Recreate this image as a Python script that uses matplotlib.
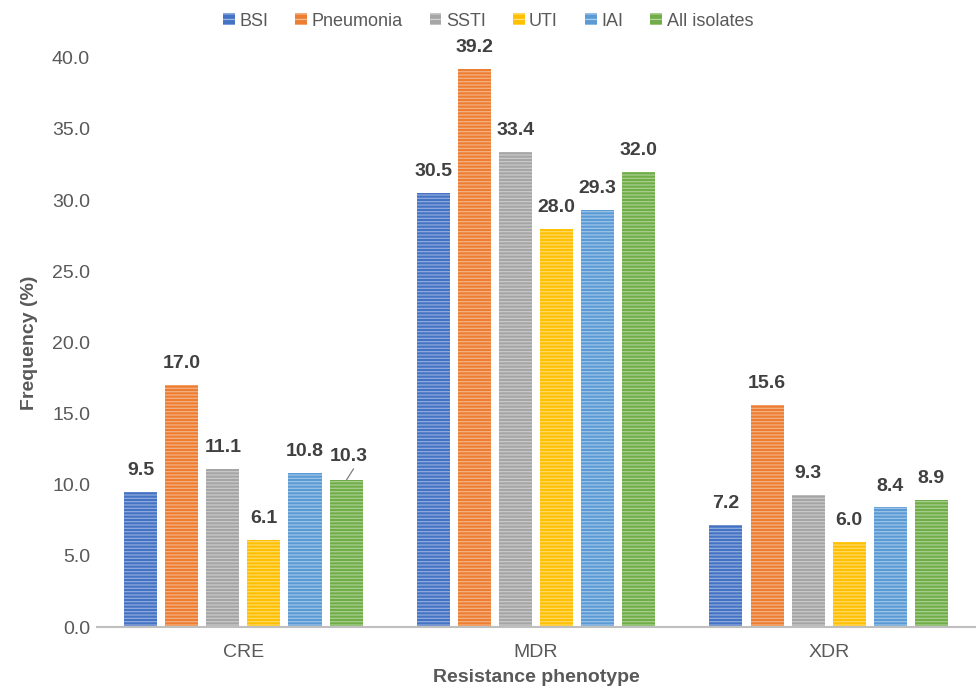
import numpy as np
import matplotlib.pyplot as plt
from matplotlib.patches import Patch

plt.rcParams['font.family'] = ['Liberation Sans', 'DejaVu Sans']
plt.rcParams['hatch.linewidth'] = 0.9

# Resistance frequency by infection source
phenotypes = ['CRE', 'MDR', 'XDR']
sources = ['BSI', 'Pneumonia', 'SSTI', 'UTI', 'IAI', 'All isolates']
colors = ['#4472C4', '#ED7D31', '#A5A5A5', '#FFC000', '#5B9BD5', '#70AD47']
bsi = [9.5, 30.5, 7.2]
pneumonia = [17.0, 39.2, 15.6]
ssti = [11.1, 33.4, 9.3]
uti = [6.1, 28.0, 6.0]
iai = [10.8, 29.3, 8.4]
all_isolates = [10.3, 32.0, 8.9]
series = [bsi, pneumonia, ssti, uti, iai, all_isolates]

fig = plt.figure(figsize=(9.76, 6.9), dpi=100)
ax = fig.add_axes([0.0994, 0.0913, 0.8996, 0.825])

x = np.arange(len(phenotypes))
pitch = 0.1404
width = 0.113
txt = '#404040'

for i, (name, vals, c) in enumerate(zip(sources, series, colors)):
    pos = x + (i - 2.5) * pitch
    ax.bar(pos, vals, width, color=c, linewidth=0, zorder=2)
    # light horizontal stripes over the fill
    ax.bar(pos, vals, width, facecolor='none', edgecolor=(1, 1, 1, 0.4),
           hatch='-' * 5, linewidth=0, zorder=3)
    for xp, v in zip(pos, vals):
        if name == 'All isolates' and v == 10.3:
            # label lifted a little, with a leader line down to the bar
            ax.text(xp + 0.01, v + 1.65, f'{v:.1f}', ha='center', va='center',
                    fontsize=14, fontweight='bold', color=txt)
            ax.plot([xp + 0.002, xp + 0.025], [v + 0.05, v + 0.8],
                    color='#7f7f7f', lw=0.9, zorder=4)
        else:
            ax.text(xp, v + 1.5, f'{v:.1f}', ha='center', va='center',
                    fontsize=14, fontweight='bold', color=txt)

ax.set_xlim(-0.5, 2.5)
ax.set_ylim(0, 40)
ax.set_yticks(np.arange(0, 40.1, 5))
ax.set_yticklabels([f'{t:.1f}' for t in np.arange(0, 40.1, 5)])
ax.set_xticks(x)
ax.set_xticklabels(phenotypes)
ax.tick_params(axis='both', length=0, labelsize=14, colors='#595959')
ax.tick_params(axis='x', pad=12)
ax.tick_params(axis='y', pad=5)

for side in ['top', 'right', 'left']:
    ax.spines[side].set_visible(False)
ax.spines['bottom'].set_color('#bfbfbf')
ax.spines['bottom'].set_linewidth(1.5)
ax.spines['bottom'].set_zorder(4)

ax.set_xlabel('Resistance phenotype', fontsize=14, fontweight='bold', color='#595959', labelpad=6)
ax.set_ylabel('Frequency (%)', fontsize=14, fontweight='bold', color='#595959', labelpad=10)

handles = [Patch(facecolor=c, edgecolor=(1, 1, 1, 0.5), hatch='---', linewidth=0) for c in colors]
fig.legend(handles, sources, loc='upper center', bbox_to_anchor=(0.5, 1.005), ncol=6,
           frameon=False, fontsize=13, handlelength=0.65, handleheight=0.65,
           handletextpad=0.25, columnspacing=1.5, labelcolor='#595959')

fig.savefig('out.png', dpi=100)
